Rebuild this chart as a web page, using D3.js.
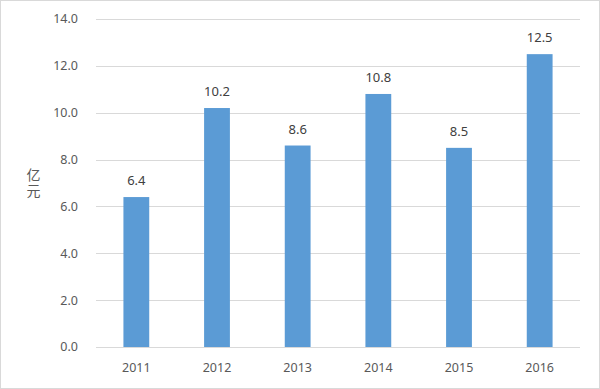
<!DOCTYPE html>
<html><head><meta charset="utf-8">
<script src="https://cdn.jsdelivr.net/npm/d3@7"></script>
<style>body{margin:0;background:#fff}svg{display:block}</style>
</head><body>
<script>
const categories = ["2011","2012","2013","2014","2015","2016"];
const values = [6.4, 10.2, 8.6, 10.8, 8.5, 12.5];
const yTicks = [0,2,4,6,8,10,12,14];
const yLabel = "亿元";

const W=600,H=389;
const m={left:96,right:20,top:19,bottom:42};
const svg=d3.select("body").append("svg").attr("width",W).attr("height",H);
svg.append("rect").attr("x",0.5).attr("y",0.5).attr("width",W-1).attr("height",H-1)
  .attr("fill","#fff").attr("stroke","#d9d9d9");
const font="'Noto Sans', 'Noto Sans CJK SC', sans-serif";
const x=d3.scaleBand().domain(categories).range([m.left,W-m.right]).paddingInner(0.68).paddingOuter(0.34);
const y=d3.scaleLinear().domain([0,14]).range([H-m.bottom,m.top]);

const g=svg.append("g");
g.selectAll("line.grid").data(yTicks).join("line").attr("class","grid")
  .attr("x1",m.left).attr("x2",W-m.right).attr("y1",d=>Math.round(y(d))+0.5).attr("y2",d=>Math.round(y(d))+0.5)
  .attr("stroke","#d9d9d9");
g.selectAll("text.yt").data(yTicks).join("text").attr("class","yt")
  .attr("x",78).attr("y",d=>y(d)).attr("dy","0.35em").attr("text-anchor","end")
  .attr("font-family",font).attr("font-size",12.5).attr("fill","#595959").text(d=>d.toFixed(1));

g.selectAll("rect.bar").data(values).join("rect").attr("class","bar")
  .attr("x",(d,i)=>x(categories[i])).attr("width",x.bandwidth())
  .attr("y",d=>y(d)).attr("height",d=>y(0)-y(d)).attr("fill","#5b9bd5");

g.selectAll("text.lab").data(values).join("text").attr("class","lab")
  .attr("x",(d,i)=>x(categories[i])+x.bandwidth()/2).attr("y",d=>y(d)-12)
  .attr("text-anchor","middle").attr("font-family",font).attr("font-size",13).attr("fill","#404040")
  .text(d=>d.toFixed(1));

g.selectAll("text.xt").data(categories).join("text").attr("class","xt")
  .attr("x",d=>x(d)+x.bandwidth()/2).attr("y",368).attr("dy","0.35em").attr("text-anchor","middle")
  .attr("font-family",font).attr("font-size",12.5).attr("fill","#595959").text(d=>d);

g.append("text").attr("x",33).attr("y",184)
  .attr("writing-mode","tb").style("text-orientation","upright").style("letter-spacing","2px")
  .attr("text-anchor","middle").attr("font-family",font).attr("font-size",14).attr("fill","#595959").text(yLabel);
</script>
</body></html>
